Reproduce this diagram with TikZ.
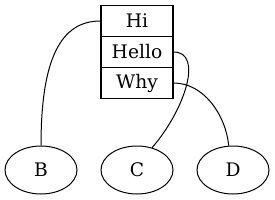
\documentclass[tikz,border=0pt]{standalone}
\usepackage{fontspec}
\setmainfont{DejaVu Serif}
\usetikzlibrary{shapes.geometric}
\begin{document}
\begin{tikzpicture}[x=0.75pt,y=-0.75pt,
  field/.style={draw, line width=0.9pt, minimum width=54pt, minimum height=23.25pt, inner sep=0pt, font=\fontsize{14}{16}\selectfont},
  leaf/.style={draw, ellipse, line width=0.75pt, minimum width=54pt, minimum height=36pt, inner sep=0pt, font=\fontsize{14}{16}\selectfont},
  link/.style={line width=0.75pt}]
\useasboundingbox (0,0) rectangle (275,200);
\node[field] (hi) at (137,21) {Hi};
\node[field] (hello) at (137,52) {Hello};
\node[field] (why) at (137,83) {Why};
\node[leaf] (b) at (41,170) {B};
\node[leaf] (c) at (137,170) {C};
\node[leaf] (d) at (233,170) {D};
\draw[link] (hi.west) .. controls +(-40,0) and +(0,-86) .. (b.north);
\draw[link] (hello.east) .. controls +(30,0) and +(33,-38) .. (c.56);
\draw[link] (why.east) .. controls +(30,0) and +(-3,-31) .. (d.100);
\end{tikzpicture}
\end{document}
